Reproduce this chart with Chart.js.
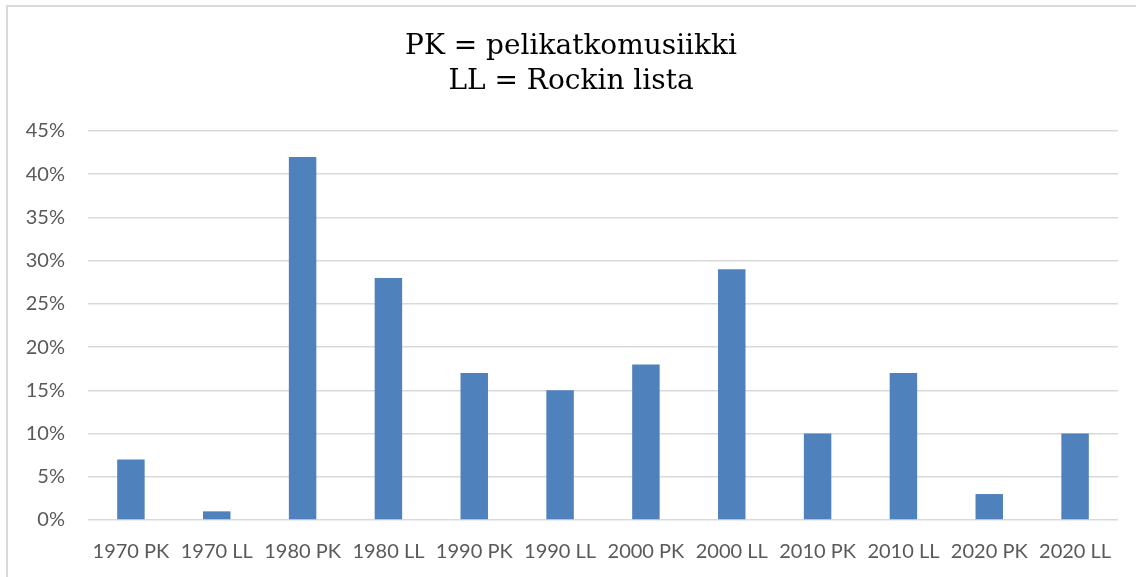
<!DOCTYPE html>
<html>
<head>
<meta charset="utf-8">
<script src="https://cdn.jsdelivr.net/npm/chart.js@4"></script>
<style>
  html, body { margin: 0; padding: 0; background: #fff; }
  #wrap { position: absolute; left: 0; top: 0; width: 1136px; height: 577px; }
  #frame { position: absolute; left: 6px; top: 5px; width: 1130px; height: 572px;
           border-left: 2px solid #d9d9d9; border-top: 2px solid #d9d9d9; box-sizing: border-box; }
</style>
</head>
<body>
<div id="wrap">
  <div id="frame"></div>
  <canvas id="chart" width="1136" height="577"></canvas>
</div>
<script>
// data
const categories = ['1970 PK', '1970 LL', '1980 PK', '1980 LL', '1990 PK', '1990 LL',
                    '2000 PK', '2000 LL', '2010 PK', '2010 LL', '2020 PK', '2020 LL'];
const shares = [7, 1, 42, 28, 17, 15, 18, 29, 10, 17, 3, 10];
const titleLines = ['PK = pelikatkomusiikki', 'LL = Rockin lista'];

const ctx = document.getElementById('chart').getContext('2d');
new Chart(ctx, {
  type: 'bar',
  data: {
    labels: categories,
    datasets: [{
      data: shares,
      backgroundColor: '#4f81bd',
      borderWidth: 0,
      categoryPercentage: 1,
      barPercentage: 0.32
    }]
  },
  options: {
    responsive: false,
    animation: false,
    // a bit of left padding nudges the title right, like the original
    layout: { padding: { left: 24, right: 18, top: 0, bottom: 0 } },
    plugins: {
      legend: { display: false },
      tooltip: { enabled: false },
      title: {
        display: true,
        text: titleLines,
        color: '#000',
        font: { family: 'DejaVu Serif', size: 28, weight: 'normal', lineHeight: 1.25 },
        padding: { top: 29, bottom: 32 }
      }
    },
    scales: {
      x: {
        grid: { display: false, drawTicks: false },
        border: { display: false },
        ticks: {
          color: '#595959',
          font: { family: 'Lato', size: 20 },
          padding: 20,
          autoSkip: false,
          maxRotation: 0
        },
        afterFit: function (scale) { scale.height = 57; }
      },
      y: {
        min: 0,
        max: 45,
        grid: { color: '#d9d9d9', lineWidth: 1.5, drawTicks: false },
        border: { display: false },
        ticks: {
          stepSize: 5,
          color: '#595959',
          font: { family: 'Lato', size: 20 },
          padding: 23,
          callback: function (v) { return v + '%'; }
        },
        afterFit: function (scale) { scale.width = 64; }
      }
    }
  }
});
</script>
</body>
</html>
